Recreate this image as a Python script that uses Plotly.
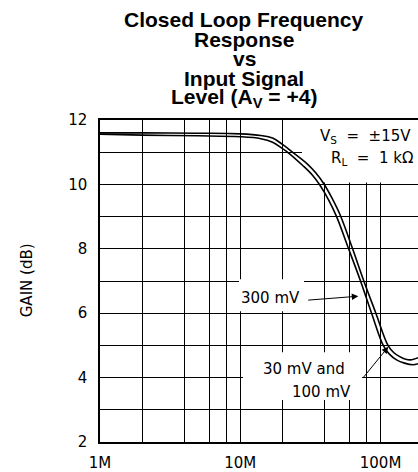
"""
Closed Loop Frequency Response vs Input Signal Level (AV = +4)
"""

import plotly.graph_objects as go

# 周波数 (Hz) / ゲイン (dB)
FREQ_300MV = [1e6, 2e6, 5e6, 10e6, 14e6, 17e6, 20e6, 21.9e6, 28e6, 32.5e6, 36.9e6, 42.5e6,
              48.6e6, 59.2e6, 72e6, 86.3e6, 104.5e6, 116e6, 130e6, 148e6, 170e6, 185e6]
GAIN_300MV = [11.56, 11.53, 11.51, 11.48, 11.42, 11.31, 11.11, 10.99, 10.58, 10.3, 9.98, 9.53,
              9.0, 8.0, 7.0, 6.0, 5.0, 4.72, 4.55, 4.45, 4.4, 4.43]

FREQ_30MV = [1e6, 2e6, 5e6, 10e6, 14e6, 17e6, 20e6, 23.3e6, 30e6, 34.5e6, 39.4e6, 45e6,
             51.9e6, 63.2e6, 76e6, 92.6e6, 113e6, 124e6, 137e6, 151e6, 164e6, 185e6]
GAIN_30MV = [11.6, 11.6, 11.59, 11.57, 11.52, 11.44, 11.24, 11.02, 10.64, 10.36, 10.02, 9.58,
             9.02, 8.0, 7.0, 6.0, 5.0, 4.78, 4.65, 4.57, 4.55, 4.62]

# 軸目盛り
X_TICKS = [1e6, 1e7, 1e8]
X_LABELS = ['1M', '10M', '100M']
X_GRID = [2e6, 4e6, 6e6, 8e6, 2e7, 4e7, 6e7, 8e7]

TITLE_LINES = ['Closed Loop Frequency', 'Response', 'vs', 'Input Signal',
               'Level (A<sub>V</sub> = +4)']

# ピクセル配置 (418x472)
W, H = 418, 472
L, R, T, B = 100, 418, 119.5, 442
X_RANGE = [6, 8.267]
Y_RANGE = [2, 12]
FONT = 'DejaVu Sans'
NB = '\u00a0'


def px_x(x):
    return (x - L) / (R - L)


def px_y(y):
    return (B - y) / (B - T)


def px_to_freq(x):
    return 10 ** (X_RANGE[0] + px_x(x) * (X_RANGE[1] - X_RANGE[0]))


def px_to_gain(y):
    return Y_RANGE[0] + px_y(y) * (Y_RANGE[1] - Y_RANGE[0])


fig = go.Figure()

for f, g in [(FREQ_300MV, GAIN_300MV), (FREQ_30MV, GAIN_30MV)]:
    fig.add_trace(go.Scatter(
        x=f, y=g, mode='lines',
        line=dict(color='black', width=1.6, shape='spline', smoothing=1.0),
        showlegend=False, hoverinfo='skip'
    ))

# ラベル背後の白抜き (グリッドのみ隠す)
for x0, x1, y0, y1 in [(302, 419, 119.5, 182), (239, 304, 279, 311), (243, 362, 352, 400)]:
    fig.add_shape(type='rect', xref='x', yref='y',
                  x0=px_to_freq(x0), x1=px_to_freq(x1),
                  y0=px_to_gain(y1), y1=px_to_gain(y0),
                  fillcolor='white', line=dict(width=0), layer='between')

# タイトル
for i, line in enumerate(TITLE_LINES):
    base = 25.7 + i * 19.8
    fig.add_annotation(text=f'<b>{line}</b>', xref='paper', yref='paper',
                       x=px_x(244), y=px_y(base - 7), xanchor='center', yanchor='middle',
                       showarrow=False, font=dict(family='Liberation Sans', size=21, color='black'))

fig.add_annotation(text='GAIN (dB)', xref='paper', yref='paper', x=px_x(27), y=px_y(280),
                   xanchor='center', yanchor='middle', textangle=-90, showarrow=False,
                   font=dict(family=FONT, size=15, color='black'))

texts = [
    (f'V<sub>S</sub>{NB}{NB}={NB}{NB}±15V', 413, 136, 'right'),
    (f'R<sub>L</sub>{NB}{NB}={NB}{NB}1{NB}kΩ', 415, 158, 'right'),
    ('300 mV', 270, 298, 'center'),
    ('30 mV and', 304, 368.5, 'center'),
    ('100 mV', 353, 391.7, 'right'),
]
for t, x, y, anchor in texts:
    fig.add_annotation(text=t, xref='paper', yref='paper', x=px_x(x), y=px_y(y),
                       xanchor=anchor, yanchor='middle', showarrow=False,
                       font=dict(family=FONT, size=15, color='black'))

# 矢印
for tip, tail in [((358.3, 296), (306.7, 300)), ((388.3, 346.7), (361.7, 379.3))]:
    fig.add_annotation(text='', xref='paper', yref='paper', x=px_x(tip[0]), y=px_y(tip[1]),
                       ax=tail[0] - tip[0], ay=tail[1] - tip[1], showarrow=True,
                       arrowhead=2, arrowsize=1.3, arrowwidth=1, arrowcolor='black', standoff=0)

fig.update_layout(
    width=W, height=H,
    margin=dict(l=L, r=W - R, t=T, b=H - B),
    paper_bgcolor='white', plot_bgcolor='white',
    font=dict(family=FONT, size=15, color='black'),
)
fig.update_xaxes(
    type='log', range=X_RANGE, tickvals=X_TICKS, ticktext=X_LABELS, automargin=False,
    showgrid=True, gridcolor='black', gridwidth=1,
    minor=dict(tickvals=X_GRID, showgrid=True, gridcolor='black', gridwidth=1, ticks=''),
    showline=True, linecolor='black', linewidth=1.5, mirror=True,
    ticks='', ticklabelstandoff=6, tickfont=dict(family=FONT, size=15)
)
fig.update_yaxes(
    range=Y_RANGE, tick0=2, dtick=2, automargin=False,
    showgrid=True, gridcolor='black', gridwidth=1, zeroline=False,
    minor=dict(dtick=1, showgrid=True, gridcolor='black', gridwidth=1, ticks=''),
    showline=True, linecolor='black', linewidth=1.5,
    ticks='', ticklabelstandoff=8, tickfont=dict(family=FONT, size=15)
)

# ページ余白を消して 418x472 にぴったり合わせる
fig.write_html('out.html', config={'displayModeBar': False},
               post_script="document.body.style.margin='0';")
